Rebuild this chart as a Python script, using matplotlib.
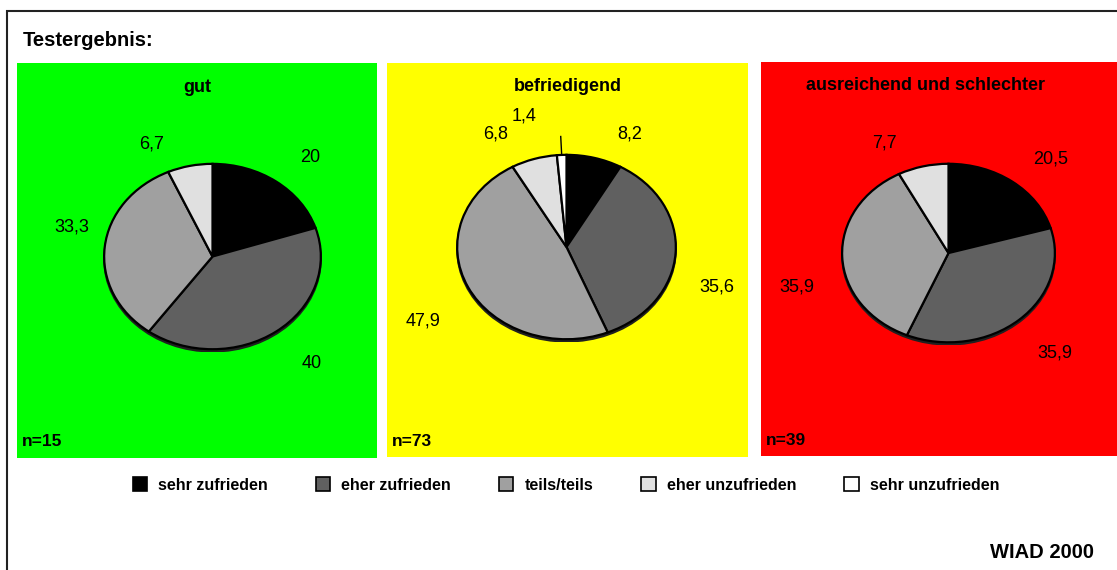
import numpy as np
import matplotlib
matplotlib.use("Agg")
import matplotlib.pyplot as plt
from matplotlib.patches import Rectangle, Ellipse, Patch

plt.rcParams["font.family"] = ["Liberation Sans", "DejaVu Sans"]

W, H = 1117, 570

categories = ["sehr zufrieden", "eher zufrieden", "teils/teils",
              "eher unzufrieden", "sehr unzufrieden"]
colors = ["#000000", "#606060", "#a0a0a0", "#e0e0e0", "#ffffff"]

groups = ["gut", "befriedigend", "ausreichend und schlechter"]
n_counts = [15, 73, 39]
gut = [20, 40, 33.3, 6.7, 0]
befriedigend = [8.2, 35.6, 47.9, 6.8, 1.4]
ausreichend = [20.5, 35.9, 35.9, 7.7, 0]
shares = [gut, befriedigend, ausreichend]

panel_colors = ["#00ff00", "#ffff00", "#ff0000"]
# panel boxes and pie boxes in pixels (x0, y0, x1, y1)
panel_boxes = [(17, 63, 377, 458), (387, 63, 748, 457), (761, 62, 1123, 456)]
pie_boxes = [(102, 162, 323, 352), (455, 153, 678, 342), (840, 162, 1057, 345)]
# pixel nudges of the slice labels away from their radial spot (dx, dy down)
label_nudges = [
    [(15, -2), (16, 9), (-1, -17), (-32, 5)],
    [(27, 3), (9, 32), (-16, 22), (-29, 1), (-2, 3)],
    [(19, -1), (15, 13), (-13, 29), (-31, 3)],
]

LABEL_SIZE = 13
TITLE_SIZE = 13


def px_axes(fig, box, **kw):
    x0, y0, x1, y1 = box
    return fig.add_axes([x0 / W, 1 - y1 / H, (x1 - x0) / W, (y1 - y0) / H], **kw)


def fmt(v):
    return ("%g" % v).replace(".", ",")


fig = plt.figure(figsize=(W / 100, H / 100), dpi=100)

# outer frame
fig.patches.append(Rectangle((7 / W, -0.1), 1.2, 1 - 11 / H + 0.1,
                             transform=fig.transFigure, fill=False,
                             edgecolor="#222222", linewidth=1.5))

fig.text(23 / W, 1 - 40 / H, "Testergebnis:", fontsize=14.5,
         fontweight="bold", va="center", ha="left")

for i, (name, vals) in enumerate(zip(groups, shares)):
    pax = px_axes(fig, panel_boxes[i])
    pax.set_facecolor(panel_colors[i])
    pax.set_xticks([])
    pax.set_yticks([])
    for s in pax.spines.values():
        s.set_visible(False)
    tx = 0.5 if i < 2 else 0.455
    pax.text(tx, 1 - 24 / 395, name, transform=pax.transAxes, ha="center",
             va="center", fontsize=TITLE_SIZE, fontweight="bold")
    pax.text(5 / 360, 1 - 379 / 395, "n=%d" % n_counts[i],
             transform=pax.transAxes, ha="left", va="center",
             fontsize=12.5, fontweight="bold")

    ax = px_axes(fig, pie_boxes[i])

    # skip empty slices but keep their colours aligned
    v = [x for x in vals if x > 0]
    c = [col for x, col in zip(vals, colors) if x > 0]

    # dark rim under the pie for the raised look
    ax.add_patch(Ellipse((0.0, -0.025), 2.0, 2.0, facecolor="#202020",
                         edgecolor="#202020", linewidth=1.5, zorder=0))
    wedges, _ = ax.pie(v, colors=c, startangle=90, counterclock=False,
                       radius=1.0, frame=True,
                       wedgeprops=dict(edgecolor="black", linewidth=1.6))
    ax.set_axis_off()
    ax.set_aspect("auto")
    ax.set_xlim(-1.02, 1.02)
    ax.set_ylim(-1.03, 1.02)

    for w, x, (dx, dy) in zip(wedges, v, label_nudges[i]):
        ang = np.deg2rad((w.theta1 + w.theta2) / 2)
        r = 1.45 if x < 2 else 1.3
        pos = (r * np.cos(ang), r * np.sin(ang))
        if x < 2:
            # small slice: label pushed out with a leader line
            ax.plot([1.0 * np.cos(ang), 1.2 * np.cos(ang)],
                    [1.0 * np.sin(ang), 1.2 * np.sin(ang)],
                    color="black", linewidth=1, clip_on=False)
            dx -= 33
        ax.annotate(fmt(x), xy=pos, xytext=(dx, -dy),
                    textcoords="offset pixels", ha="center", va="center",
                    fontsize=LABEL_SIZE, annotation_clip=False)

handles = [Patch(facecolor=col, edgecolor="black", linewidth=1.2)
           for col in colors]
fig.legend(handles, categories, loc="center",
           bbox_to_anchor=(566 / W, 1 - 485 / H), ncol=5, frameon=False,
           prop=dict(size=11.5, weight="bold"), handlelength=0.9,
           handleheight=1.0, handletextpad=0.7, columnspacing=3.0)

fig.text(1094 / W, 1 - 552 / H, "WIAD 2000", fontsize=14.5,
         fontweight="bold", ha="right", va="center")

fig.savefig("out.png", dpi=100)
